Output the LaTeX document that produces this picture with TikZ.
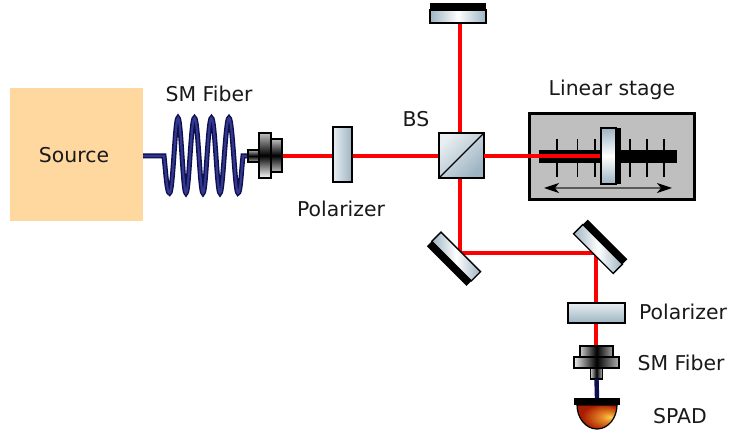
\documentclass[tikz,border=0pt]{standalone}
\usepackage{fontspec}
\setmainfont{DejaVu Sans}
\usetikzlibrary{arrows.meta,backgrounds,calc}
\definecolor{srccol}{HTML}{FFD8A0}
\definecolor{optlight}{HTML}{E8EEF1}
\definecolor{optdark}{HTML}{9DB4C2}
\definecolor{fibcol}{HTML}{0C0F50}
\definecolor{fibin}{HTML}{33388C}
\definecolor{stagecol}{HTML}{BFBFBF}
\definecolor{spadyel}{HTML}{F8D450}
\definecolor{spadorg}{HTML}{E88A28}
\definecolor{spadred}{HTML}{A81C00}
\pgfdeclareradialshading{spadglow}{\pgfpoint{0.6cm}{0cm}}{color(0cm)=(spadyel); color(0.3cm)=(spadorg); color(0.95cm)=(spadred); color(1.76cm)=(spadred)}
\tikzstyle{block} = [inner sep=0pt, outer sep=0pt, draw=black, line width=1.3pt]
\tikzstyle{beam} = [red, line width=3.2pt]
\tikzstyle{fiber} = [draw=fibcol, double=fibin, line width=1.4pt, double distance=2.2pt, line join=miter]
\tikzstyle{polar} = [block, minimum width=19pt, minimum height=55pt, left color=optlight, right color=optdark]
\tikzstyle{polarh} = [block, minimum width=57pt, minimum height=20pt, top color=optlight, bottom color=optdark]
\tikzstyle{mirror} = [block, minimum width=56pt, minimum height=13pt, left color=optdark, right color=optdark, middle color=white]
\tikzstyle{mbar} = [inner sep=0pt, outer sep=0pt, fill=black, minimum width=56pt, minimum height=7pt]
\tikzstyle{label} = [inner sep=0pt, font=\fontsize{20.4}{22}\selectfont, text=black!90]
\begin{document}
\begin{tikzpicture}[x=1pt,y=-1pt]
\useasboundingbox (0,0) rectangle (729,435);
\node (src) [inner sep=0pt, minimum width=133pt, minimum height=133pt, fill=srccol] at (76.5,154.5) {};
\node (srctxt) [label] at (74,155) {Source};
%
\coordinate (fibstart) at (143,156);
\coordinate (fibcorner) at (164,156);
\coordinate (fibend) at (243,156);
\coordinate (fibjoin) at (250,156);
\draw [fiber] (fibstart) -- (fibcorner) .. controls (166,175) and (167,193) .. (169.5,193)
  .. controls (173,193) and (175,118) .. (178,118)
  .. controls (181,118) and (183,193) .. (186,193)
  .. controls (189,193) and (191,118) .. (194.5,118)
  .. controls (198,118) and (200,193) .. (203,193)
  .. controls (206,193) and (208,118) .. (211.5,118)
  .. controls (215,118) and (217,193) .. (220,193)
  .. controls (223,193) and (225.5,118) .. (229,118)
  .. controls (232.5,118) and (235,193) .. (238,193)
  .. controls (240.5,193) and (241,175) .. (fibend) -- (fibjoin);
\node (conn1a) [block, minimum width=12pt, minimum height=12pt, top color=gray!60, bottom color=gray!60, middle color=black] at (254,156) {};
\node (conn1c) [block, minimum width=11pt, minimum height=33pt, top color=gray!50, bottom color=gray!50, middle color=black] at (276.5,155.5) {};
\node (conn1b) [block, minimum width=12pt, minimum height=45pt, top color=gray!50, bottom color=white, middle color=black] at (265,155.5) {};
\node (fibtxt1) [label] at (209,94) {SM Fiber};
%
\node (pol1) [polar] at (342.5,154.5) {};
\node (poltxt1) [label] at (341,209) {Polarizer};
\node (bs) [block, minimum width=45pt, minimum height=45pt, top color=optlight, bottom color=optdark, shading angle=45] at (461.5,155.5) {};
\draw [line width=1.3pt] (bs.south west) -- (bs.north east);
\node (bstxt) [label] at (416,119) {BS};
\node (mtop) [mirror] at (458,16.5) {};
\node (mtopbar) [mbar, anchor=south] at (mtop.north) {};
%
\coordinate (hit) at (460,156);
\node (stage) [draw=black, line width=2.4pt, inner sep=0pt, minimum width=165pt, minimum height=86pt, fill=stagecol] at (612,156.5) {};
\node (stagetxt) [label] at (612,90) {Linear stage};
\foreach \x in {557,577.5,595,630,647,664}
  \draw [line width=1.2pt] (\x,139) -- (\x,177);
\node (rail) [inner sep=0pt, minimum width=138pt, minimum height=13pt, fill=black] at (608,156.5) {};
\coordinate (arrl) at (544,188);
\coordinate (arrr) at (672,188);
\draw [{Stealth[black,length=15pt,width=10pt,inset=4pt]}-{Stealth[black,length=15pt,width=10pt,inset=4pt]}, black!65, line width=1.3pt] (arrl) -- (arrr);
\node (slbar) [inner sep=0pt, minimum width=6pt, minimum height=56pt, fill=black] at (618,156) {};
\draw [beam] (bs.east |- hit) -- (604,156) coordinate (slhit);
\node (slide) [block, minimum width=15pt, minimum height=56pt, top color=optdark, bottom color=optdark, middle color=white] at (608.5,156) {};
%
\node (m1) [mirror, rotate=-45] at (456.2,256.5) {};
\node (m1bar) [mbar, rotate=-45, anchor=north] at (m1.south) {};
\node (m2) [mirror, rotate=-45] at (598,249) {};
\node (m2bar) [mbar, rotate=-45, anchor=south] at (m2.north) {};
\coordinate (turn1) at (460,253);
\coordinate (turn2) at (596,253);
%
\node (pol2) [polarh] at (596.5,313) {};
\node (poltxt2) [label] at (683,312) {Polarizer};
\node (conn2a) [block, minimum width=33pt, minimum height=11pt, left color=gray!40, right color=gray!70, middle color=black] at (596.5,351.5) {};
\node (conn2b) [block, minimum width=45pt, minimum height=11pt, left color=gray!15, right color=gray!60, middle color=black] at (596.5,362.5) {};
\node (conn2c) [block, minimum width=12pt, minimum height=11pt, left color=gray!40, right color=gray!50, middle color=black] at (596.5,373.5) {};
\node (fibtxt2) [label] at (681,363) {SM Fiber};
%
\node (spadbar) [inner sep=0pt, outer sep=0pt, minimum width=46pt, minimum height=7pt, fill=black] at (597,401.5) {};
\draw [line width=1.2pt, shading=spadglow] (577,405) arc [start angle=180, end angle=360, x radius=20pt, y radius=24pt] -- cycle;
\node (spadtxt) [label] at (680,416) {SPAD};
\draw [fibcol, line width=4.4pt] (conn2c.south) -- (spadbar.north);
%
\begin{scope}[on background layer]
\draw [beam] (conn1c.east |- hit) -- (hit);
\draw [beam] (mtop.south -| hit) -- (hit) -- (turn1) -- (turn2) -- (pol2.north -| turn2);
\draw [beam] (pol2.south -| turn2) -- (conn2a.north -| turn2);
\end{scope}
\end{tikzpicture}
\end{document}
